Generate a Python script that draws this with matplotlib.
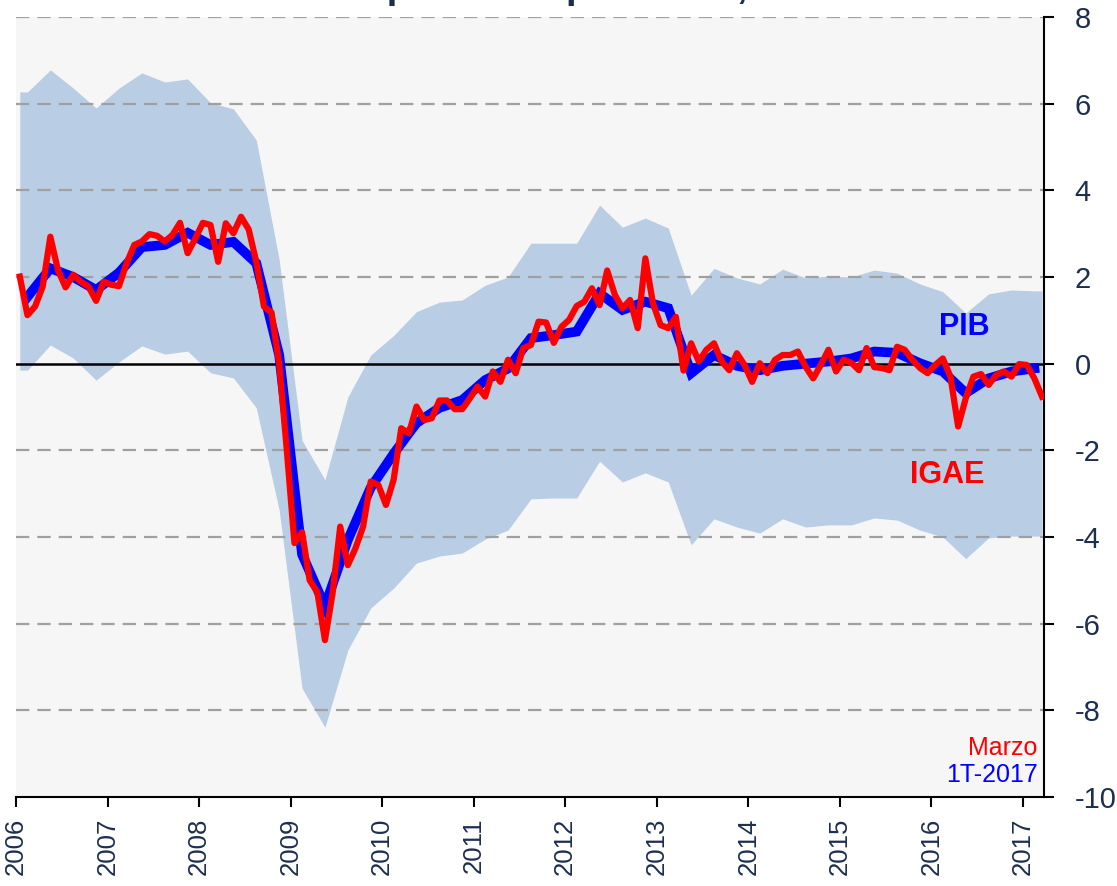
import matplotlib.pyplot as plt
import numpy as np

plt.rcParams["font.family"] = ["Liberation Sans", "DejaVu Sans"]
plt.rcParams["axes.unicode_minus"] = False

# IGAE, mensual, ene-2006 a mar-2017
igae = [
    2.01, 1.12, 1.32, 1.78, 2.93, 2.16, 1.76, 2.05, 1.89, 1.78, 1.45, 1.89,
    1.82, 1.79, 2.32, 2.74, 2.82, 2.99, 2.95, 2.82, 2.97, 3.25, 2.55, 2.89,
    3.25, 3.20, 2.35, 3.24, 3.01, 3.39, 3.10, 2.35, 1.32, 1.18, 0.00, -2.00,
    -4.14, -3.89, -5.00, -5.27, -6.38, -5.30, -3.76, -4.65, -4.26, -3.76, -2.72, -2.80,
    -3.26, -2.68, -1.49, -1.61, -0.99, -1.30, -1.26, -0.85, -0.85, -1.05, -1.05, -0.80,
    -0.53, -0.76, -0.18, -0.42, 0.09, -0.22, 0.36, 0.43, 0.97, 0.95, 0.48, 0.85,
    1.01, 1.33, 1.43, 1.74, 1.35, 2.15, 1.59, 1.28, 1.47, 0.82, 2.43, 1.39,
    0.89, 0.82, 1.08, -0.16, 0.47, 0.05, 0.32, 0.47, 0.05, -0.15, 0.24, -0.03,
    -0.42, 0.01, -0.22, 0.09, 0.20, 0.20, 0.28, -0.07, -0.34, -0.03, 0.32, -0.18,
    0.09, 0.02, -0.15, 0.36, -0.08, -0.10, -0.15, 0.39, 0.32, 0.09, -0.10, -0.22,
    -0.03, 0.12, -0.30, -1.45, -0.80, -0.30, -0.24, -0.49, -0.26, -0.18, -0.30, -0.01,
    -0.03, -0.34, -0.76,
]

# PIB y rango, trimestral, 1T-2006 a 1T-2017
pib = [
    1.54, 2.20, 2.00, 1.70,
    2.10, 2.69, 2.74, 3.02,
    2.74, 2.81, 2.32, 0.20,
    -4.40, -5.60, -4.07, -2.86,
    -2.08, -1.37, -1.02, -0.84,
    -0.38, -0.11, 0.59, 0.66,
    0.74, 1.62, 1.24, 1.43,
    1.28, -0.22, 0.20, -0.05,
    -0.15, -0.05, 0.00, 0.05,
    0.12, 0.28, 0.25, 0.01,
    -0.18, -0.68, -0.34, -0.18,
    -0.11,
]
banda_sup = [
    6.27, 6.78, 6.36, 5.90,
    6.36, 6.71, 6.50, 6.57,
    6.02, 5.88, 5.16, 2.40,
    -1.77, -2.68, -0.77, 0.20,
    0.65, 1.20, 1.42, 1.47,
    1.81, 2.00, 2.78, 2.78,
    2.78, 3.66, 3.15, 3.36,
    3.13, 1.58, 2.20, 1.98,
    1.84, 2.18, 1.98, 2.02,
    2.00, 2.16, 2.09, 1.84,
    1.66, 1.17, 1.61, 1.70,
    1.68,
]
banda_inf = [
    -0.15, 0.43, 0.13, -0.38,
    0.04, 0.41, 0.22, 0.29,
    -0.21, -0.33, -1.02, -3.38,
    -7.49, -8.39, -6.61, -5.64,
    -5.18, -4.60, -4.44, -4.37,
    -4.05, -3.84, -3.12, -3.10,
    -3.10, -2.25, -2.73, -2.52,
    -2.73, -4.18, -3.58, -3.77,
    -3.91, -3.58, -3.77, -3.72,
    -3.72, -3.56, -3.61, -3.84,
    -4.00, -4.50, -4.02, -3.98,
    -3.98,
]

years = list(range(2006, 2018))
yticks = list(range(-10, 9, 2))

navy = "#1d2f4f"

# posiciones: centro de cada mes / trimestre
x_m = 2006 + (np.arange(len(igae)) + 0.5) / 12
x_q = 2006 + (np.arange(len(pib)) * 3 + 1.5) / 12
x_b = np.r_[x_m[0], x_q, x_m[-1]]
sup_b = np.r_[banda_sup[0], banda_sup, banda_sup[-1]]
inf_b = np.r_[banda_inf[0], banda_inf, banda_inf[-1]]

fig = plt.figure(figsize=(11.17, 8.86), dpi=100)
ax = fig.add_axes([16 / 1117, 1 - 797 / 886, (1044 - 16) / 1117, (797 - 17) / 886])
ax.set_facecolor("#f6f6f6")

ax.fill_between(x_b, inf_b, sup_b, color="#b9cde5", lw=0, zorder=1)
for y in yticks:
    if y not in (0, -10):
        ax.axhline(y, color="#a0a0a0", lw=1.6, ls=(0, (6, 3.6)), zorder=2)
ax.axhline(0, color="black", lw=1.8, zorder=3)
ax.plot(x_q, pib, color="#0000ff", lw=7, solid_joinstyle="miter", zorder=4)
ax.plot(x_m, igae, color="#ff0000", lw=4.5, solid_joinstyle="round", zorder=5)

ax.set_xlim(2006, 2017.23)
ax.set_ylim(-10, 8)

ax.yaxis.tick_right()
ax.set_yticks(yticks)
ax.set_yticklabels([str(v) for v in yticks], ha="left")
ax.tick_params(axis="y", direction="out", length=7, width=1.5, pad=15,
               labelsize=21, labelcolor=navy)
ax.set_xticks(years)
ax.set_xticklabels([str(y) for y in years], rotation=90)
ax.tick_params(axis="x", direction="out", length=7, width=1.5, pad=8,
               labelsize=18.5, labelcolor=navy)

ax.spines["top"].set_visible(False)
ax.spines["left"].set_visible(False)
ax.spines["right"].set_linewidth(1.5)
ax.spines["bottom"].set_linewidth(1.5)

ax.text(2016.36, 0.85, "PIB", color="#0000ff", fontsize=22, fontweight="bold",
        ha="center", va="center")
ax.text(2016.17, -2.57, "IGAE", color="#ff0000", fontsize=22, fontweight="bold",
        ha="center", va="center")
ax.text(2017.16, -8.87, "Marzo", color="#ff0000", fontsize=18, ha="right", va="center")
ax.text(2017.16, -9.5, "1T-2017", color="#0000ff", fontsize=18, ha="right", va="center")

# título, casi todo fuera del borde superior (sólo asoman los rasgos descendentes)
fig.text(177 / 1117, 1 + 2 / 886, "Brecha del producto potencial, %",
         color=navy, fontsize=28, fontweight="bold", ha="left", va="baseline")

fig.savefig("out.png", dpi=100)
